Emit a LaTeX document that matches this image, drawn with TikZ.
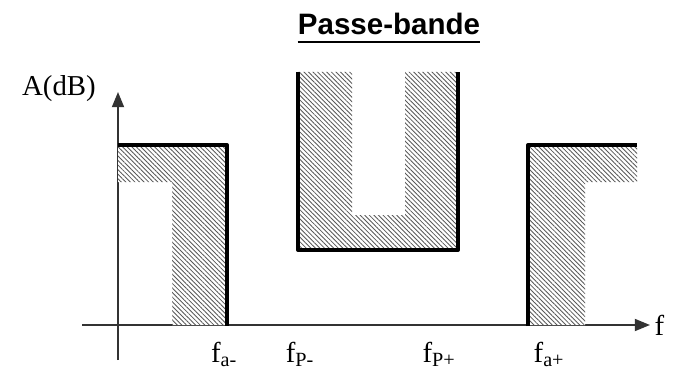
\documentclass[tikz,border=0pt]{standalone}
\usepackage{fontspec}
\setmainfont{Liberation Serif}
\newfontfamily\titlefont{Liberation Sans}
\usepackage{tikz}
\usetikzlibrary{arrows.meta,positioning,patterns.meta}

\begin{document}
\begin{tikzpicture}[x=0.025cm,y=-0.025cm,>={Triangle[length=3.8mm,width=3mm]},
  axis/.style={draw=black!80,line width=1.3pt},
  gabarit/.style={draw=black,line width=2.9pt,line join=round},
  hatch/.style={pattern={Lines[angle=-45,distance=2.3pt,line width=0.6pt]},pattern color=black!65},
  lab/.style={font=\fontsize{20.5}{24}\selectfont,inner sep=1pt}]
\useasboundingbox (0,0) rectangle (691,381);
% axes
\coordinate (x0) at (82,325);
\coordinate (x1) at (650,325);
\coordinate (y0) at (118,360);
\coordinate (y1) at (118,92);
\draw[axis,->] (x0) -- (x1);
\draw[axis,->] (y0) -- (y1);
\node[lab,anchor=base] (A) at (59,96) {A(dB)};
\node[lab,anchor=base west] (f) at (653,335) {f};
% zones interdites
\fill[white] (118,145) -| (227,325) -| (172,182) -| (118,145) -- cycle;
\path[hatch] (118,145) -| (227,325) -| (172,182) -| (118,145) -- cycle;
\fill[white] (298,72) |- (458,250) |- (405,72) |- (352,215) |- (298,72) -- cycle;
\path[hatch] (298,72) |- (458,250) |- (405,72) |- (352,215) |- (298,72) -- cycle;
\fill[white] (528,325) |- (637,145) |- (585,182) |- (528,325) -- cycle;
\path[hatch] (528,325) |- (637,145) |- (585,182) |- (528,325) -- cycle;
% gabarit
\draw[gabarit] (118,145) -| (227,326);
\draw[gabarit] (528,326) |- (637,145);
\draw[gabarit] (298,72) |- (458,250) -- (458,72);
% frequences
\node[lab,anchor=base] (fam) at (224,362) {f\textsubscript{a-}};
\node[lab,anchor=base] (fpm) at (300,362) {f\textsubscript{P-}};
\node[lab,anchor=base] (fpp) at (439,362) {f\textsubscript{P+}};
\node[lab,anchor=base] (fap) at (549,362) {f\textsubscript{a+}};
\node[anchor=base,inner sep=0pt,font=\titlefont\bfseries\fontsize{21}{24}\selectfont] (titre) at (389,35) {Passe-bande};
\draw[line width=2pt] (titre.base west) ++(0,7) coordinate (u0) -- (titre.base east |- u0);
\end{tikzpicture}
\end{document}
